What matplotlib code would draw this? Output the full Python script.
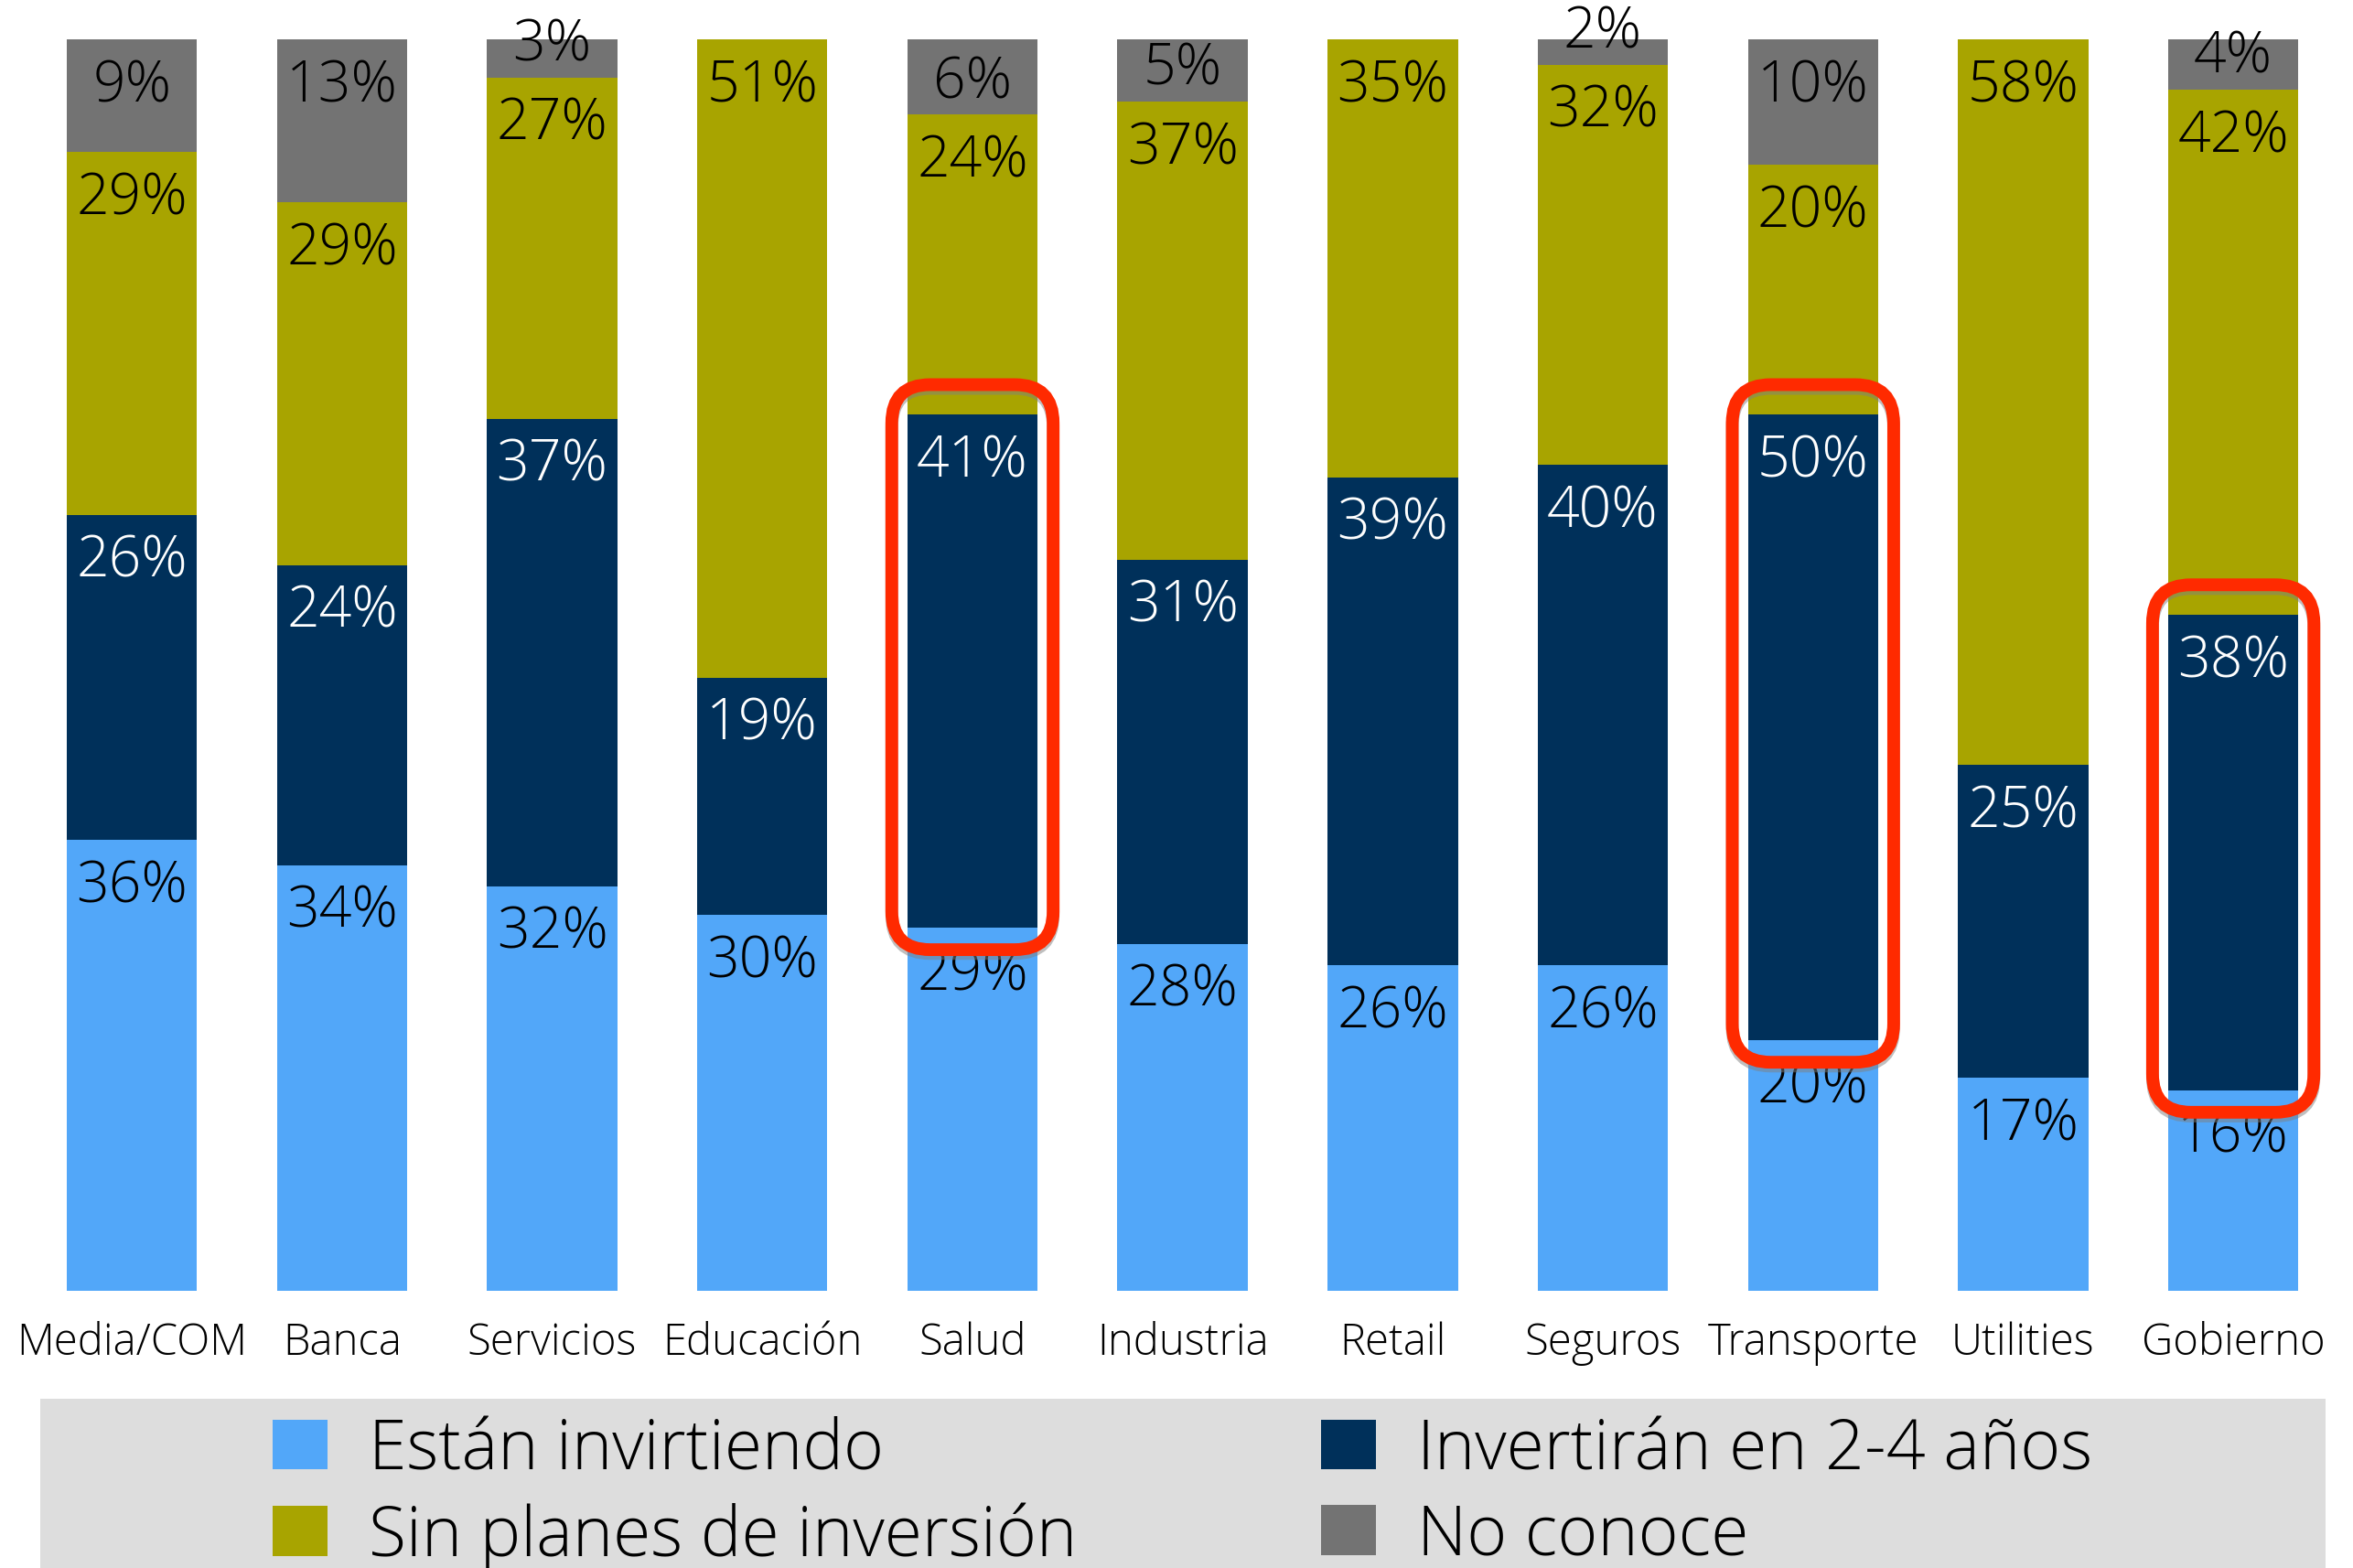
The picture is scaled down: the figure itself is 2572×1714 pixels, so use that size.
import matplotlib
matplotlib.use("Agg")
import matplotlib.pyplot as plt
import matplotlib.patheffects as pe
from matplotlib.patches import FancyBboxPatch, Rectangle
from matplotlib.transforms import IdentityTransform
import numpy as np

plt.rcParams["font.family"] = ["Open Sans", "DejaVu Sans"]
plt.rcParams["font.weight"] = "light"

sectors = ["Media/COM", "Banca", "Servicios", "Educación", "Salud", "Industria",
           "Retail", "Seguros", "Transporte", "Utilities", "Gobierno"]
invirtiendo = [36, 34, 32, 30, 29, 28, 26, 26, 20, 17, 16]
invertiran = [26, 24, 37, 19, 41, 31, 39, 40, 50, 25, 38]
sin_planes = [29, 29, 27, 51, 24, 37, 35, 32, 20, 58, 42]
no_conoce = [9, 13, 3, 0, 6, 5, 0, 2, 10, 0, 4]
highlighted = ["Salud", "Transporte", "Gobierno"]

series = [
    ("Están invirtiendo", invirtiendo, "#52a7f9", "black"),
    ("Invertirán en 2-4 años", invertiran, "#00305a", "white"),
    ("Sin planes de inversión", sin_planes, "#a8a400", "black"),
    ("No conoce", no_conoce, "#737373", "black"),
]

fig = plt.figure(figsize=(25.72, 17.15), dpi=100)
ax = fig.add_axes([0, 0.1769, 1, 0.7973])

x = np.arange(len(sectors))
totals = np.sum([np.array(s[1], float) for s in series], axis=0)
bottom = np.zeros(len(sectors))
handles = {}
for label, vals, color, tcolor in series:
    h = np.array(vals, float) / totals * 100
    bars = ax.bar(x, h, 0.62, bottom=bottom, color=color, linewidth=0, label=label)
    handles[label] = bars
    for xi, b, hi, v in zip(x, bottom, h, vals):
        if v <= 0:
            continue
        top = b + hi
        ypos = max(top - 3.7, b + 2.6)
        ax.text(xi, ypos, f"{v}%", ha="center", va="center", fontsize=45,
                color=tcolor, zorder=5)
    bottom += h

ax.set_xlim(-0.628, 10.57)
ax.set_ylim(0, 100)
ax.set_xticks(x)
ax.set_xticklabels(sectors, fontsize=34)
ax.tick_params(axis="x", length=0, pad=24)
ax.set_yticks([])
for s in ax.spines.values():
    s.set_visible(False)

# red highlight boxes around the "Invertirán" segment
inv_norm = np.array(invertiran, float) / totals * 100
est_norm = np.array(invirtiendo, float) / totals * 100
for name in highlighted:
    i = sectors.index(name)
    (x0, y0) = ax.transData.transform((i - 0.31, est_norm[i]))
    (x1, y1) = ax.transData.transform((i + 0.31, est_norm[i] + inv_norm[i]))
    x0 -= 17; x1 += 17; y0 -= 24; y1 += 33
    box = FancyBboxPatch((x0, y0), x1 - x0, y1 - y0,
                         boxstyle="round,pad=0,rounding_size=42",
                         transform=IdentityTransform(), fill=False,
                         edgecolor="#ff2a00", linewidth=10, zorder=10)
    box.set_path_effects([pe.SimpleLineShadow(offset=(0, -3), shadow_color="gray", alpha=0.5),
                          pe.Normal()])
    fig.add_artist(box)

# legend panel
fig.add_artist(Rectangle((0.0171, 0), 0.9712, 0.1079, transform=fig.transFigure,
                         facecolor="#dddddd", edgecolor="none", zorder=0))
order = ["Están invirtiendo", "Sin planes de inversión", "Invertirán en 2-4 años", "No conoce"]
leg = fig.legend([handles[k] for k in order], order, ncol=2, loc="upper left",
                 bbox_to_anchor=(0.1159, 0.097), frameon=False, fontsize=54,
                 handlelength=0.8, handleheight=0.75, handletextpad=0.6,
                 labelspacing=0.24, columnspacing=3.55, borderpad=0, borderaxespad=0)

fig.savefig("out.png", dpi=100)
